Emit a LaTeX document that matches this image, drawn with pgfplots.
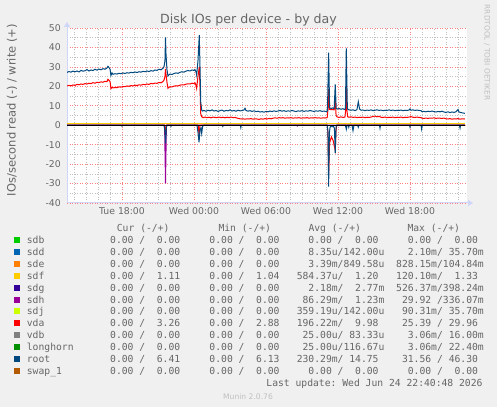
\documentclass[border=0pt]{standalone}
\usepackage{fontspec}
\setmainfont{DejaVu Sans}
\newfontfamily\monofont{DejaVu Sans Mono}
\usepackage{pgfplots}
\pgfplotsset{compat=1.18}
\usetikzlibrary{arrows.meta}
\definecolor{bgc}{HTML}{F0F0F0}
\definecolor{fontc}{HTML}{666666}
\definecolor{axisc}{HTML}{CFD6F8}
\definecolor{csdb}{HTML}{00CC00}
\definecolor{csdd}{HTML}{0066B3}
\definecolor{csde}{HTML}{FF8000}
\definecolor{csdf}{HTML}{FFCC00}
\definecolor{csdg}{HTML}{330099}
\definecolor{csdh}{HTML}{990099}
\definecolor{csdj}{HTML}{CCFF00}
\definecolor{cvda}{HTML}{FF0000}
\definecolor{cvdb}{HTML}{808080}
\definecolor{clong}{HTML}{008F00}
\definecolor{croot}{HTML}{00487D}
\definecolor{cswap}{HTML}{B35A00}
\newcommand\q{\phantom{0}}
\newcommand\zz{\q\q0.00\q/\q\q0.00\q}
\newcommand\lrow[7]{%
  \pgfmathsetmacro\cy{167.3-11.96*#1}%
  \fill[#2] (14,\cy-3) rectangle (20,\cy+3);
  \node[anchor=base west, inner sep=0pt] at (26.7,\cy-3.5) {#3};
  \node[anchor=base west, inner sep=0pt] at (98.3,\cy-3.5) {#4};
  \node[anchor=base west, inner sep=0pt] at (197.6,\cy-3.5) {#5};
  \node[anchor=base west, inner sep=0pt] at (296.6,\cy-3.5) {#6};
  \node[anchor=base west, inner sep=0pt] at (396,\cy-3.5) {#7};
}
\begin{document}
\begin{tikzpicture}[x=1pt,y=1pt]
\path[use as bounding box] (0,0) rectangle (497,407);
\fill[bgc] (0,0) rectangle (497,407);
\begin{axis}[
  at={(67pt,204pt)}, anchor=south west,
  scale only axis, width=400pt, height=175pt,
  xmin=13.417, xmax=46.75, ymin=-40, ymax=50,
  axis background/.style={fill=white},
  axis lines*=left,
  axis line style={draw=axisc, line width=1pt},
  x axis line style={-{Triangle[length=5pt,width=6pt]}, shorten >=-6pt},
  y axis line style={-{Triangle[length=5pt,width=6pt]}, shorten >=-6pt},
  xtick={18,24,30,36,42},
  xticklabels={Tue 18:00,Wed 00:00,Wed 06:00,Wed 12:00,Wed 18:00},
  minor xtick={14,15,...,46},
  ytick={-40,-30,...,50},
  yticklabels={-40,-30,-20,-10,0,10,20,30,40,50},
  minor ytick={-35,-25,...,45},
  grid=both,
  major grid style={draw=red!50, dash pattern=on 1pt off 1.5pt, line width=0.6pt},
  minor grid style={draw=black!25, dash pattern=on 1pt off 1.5pt, line width=0.6pt},
  major tick length=0pt, minor tick length=0pt,
  tick style={draw=none},
  ticklabel style={font=\fontsize{9.3}{11}\selectfont, text=fontc},
  xticklabel style={anchor=base, inner sep=0pt, yshift=-12pt},
  yticklabel style={anchor=east, inner sep=0pt, xshift=-6pt},
  every axis plot/.append style={line width=1pt},
]
% sdh read
\addplot[csdh] coordinates {(13.42,0)(21.55,0)(21.625,-29.9)(21.7,0)(32.55,0)(32.6,-0.4)(32.65,0)(46.58,0)};
% vda read
\addplot[cvda] coordinates {(13.42,0)(21.55,0)(21.625,-5)(21.7,0)(24.35,0)(24.42,-5)(24.5,0)(35.1,0)(35.16,-4)(35.22,-25.4)(35.3,-9)(35.45,-6)(35.6,-8)(35.77,-13)(35.84,-2)(35.9,0)(46.58,0)};
% vda write
\addplot[cvda] coordinates {(13.42,20.2)(13.58,20.5)(13.75,20.3)(13.92,20.7)(14.08,20.5)(14.25,21.0)(14.42,20.8)(14.58,21.2)(14.75,21.0)(14.92,21.4)(15.08,21.2)(15.25,21.6)(15.42,21.4)(15.58,21.9)(15.75,21.6)(15.92,22.1)(16.08,21.9)(16.25,22.3)(16.42,22.1)(16.58,22.6)(16.75,22.4)(16.83,23.6)(16.92,23.0)(17.0,22.6)(17.08,18.8)(17.17,19.5)(17.25,19.2)(17.42,19.4)(17.58,19.3)(17.75,19.7)(17.92,19.6)(18.08,19.9)(18.25,19.8)(18.42,20.2)(18.58,20.0)(18.75,20.4)(18.92,20.2)(19.08,20.6)(19.25,20.4)(19.42,20.8)(19.58,20.6)(19.75,21.0)(19.92,20.8)(20.08,21.2)(20.25,21.0)(20.42,21.5)(20.58,21.3)(20.75,21.7)(20.92,21.5)(21.08,22.0)(21.25,21.8)(21.42,22.5)(21.5,23.2)(21.58,25)(21.625,29.0)(21.67,26)(21.75,22.0)(21.83,19.0)(21.92,19.5)(22.0,19.8)(22.17,19.7)(22.33,20.1)(22.5,20.3)(22.67,20.2)(22.83,20.6)(23.0,20.8)(23.17,20.7)(23.33,21.1)(23.5,21.3)(23.67,21.2)(23.83,21.6)(24.0,21.5)(24.08,21.8)(24.17,20.5)(24.22,19.0)(24.33,25)(24.44,30.0)(24.5,20)(24.56,6)(24.64,4.4)
(24.75,3.9)(24.92,4.2)(25.08,3.9)(25.25,4.1)(25.42,3.8)(25.58,4.2)(25.75,4.0)(25.92,3.9)(26.08,4.2)(26.25,3.9)(26.42,4.1)(26.58,3.8)(26.75,4.1)(26.92,3.9)(27.08,4.2)(27.25,3.9)(27.42,4.0)(27.58,3.7)(27.75,3.4)(27.92,3.2)(28.08,3.3)(28.25,3.1)(28.42,3.3)(28.58,3.2)(28.75,3.4)(28.92,3.1)(29.08,3.3)(29.25,3.2)(29.42,3.0)(29.58,3.3)(29.75,3.1)(29.92,3.4)(30.08,3.2)(30.25,3.5)(30.42,3.3)(30.58,3.6)(30.75,3.8)(30.92,3.6)(31.08,3.9)(31.25,3.7)(31.42,3.9)(31.58,3.6)(31.75,3.8)(31.92,3.7)(32.08,3.9)(32.25,3.6)(32.42,3.8)(32.58,3.7)(32.75,3.9)(32.92,3.6)(33.08,3.8)(33.25,3.7)(33.42,3.9)(33.58,3.6)(33.75,3.8)(33.92,3.7)(34.08,3.9)(34.25,3.7)(34.42,3.8)(34.58,3.6)(34.75,3.8)(34.92,3.7)(35.1,3.9)(35.16,8)(35.22,18.5)(35.28,8.2)(35.42,8.0)(35.55,8.1)(35.68,7.9)(35.77,13)(35.84,5)(35.92,4.3)(36.08,4.0)(36.25,4.3)(36.42,4.0)(36.58,4.2)(36.64,8)(36.69,19.0)(36.74,8)(36.8,4.4)(36.92,4.1)(37.08,4.3)(37.25,4.0)(37.42,4.2)(37.58,3.9)(37.75,4.1)(37.92,4.0)(38.08,4.2)(38.25,3.9)(38.42,4.1)(38.58,4.0)(38.75,4.2)(38.92,4.5)(39.08,4.7)(39.25,4.3)(39.42,4.6)(39.58,4.1)(39.75,4.0)(39.92,4.2)(40.08,3.9)(40.25,4.1)(40.42,4.0)(40.58,4.2)(40.75,3.9)(40.92,4.1)(41.08,4.0)(41.25,4.2)(41.42,3.9)(41.58,4.1)(41.75,4.0)(41.92,4.2)(42.08,4.4)(42.25,4.1)(42.42,4.0)(42.58,4.2)(42.75,4.0)(42.92,3.9)(43.0,3.6)(43.17,3.5)(43.33,3.7)(43.5,3.5)(43.67,3.7)(43.83,3.6)(44.0,3.8)(44.17,3.5)(44.33,3.7)(44.5,3.6)(44.67,3.5)(44.83,3.7)(45.0,3.3)(45.17,3.2)(45.33,3.4)(45.5,3.1)(45.67,3.3)(45.83,3.2)(46.0,3.4)(46.17,3.1)(46.33,3.3)(46.5,3.2)(46.58,3.3)};
% sdf write
\addplot[csdf] coordinates {(13.42,1.1)(46.58,1.1)};
% root read
\addplot[croot] coordinates {(13.42,0)(17.95,0)(18.0,-0.5)(18.05,0)(21.5,0)(21.58,-3)(21.625,-9.3)(21.7,-1.2)(21.75,0)(22.04,0)(22.08,-0.6)(22.12,0)(24.25,0)(24.33,-3.5)(24.42,-8.8)(24.5,-2.5)(24.58,-1.5)(24.64,-4.2)(24.72,-0.5)(24.8,0)(26.36,0)(26.4,-0.6)(26.44,0)(27.86,0)(27.9,-1.2)(27.94,0)(35.1,0)(35.16,-3)(35.22,-31.6)(35.28,-4)(35.34,-1)(35.42,-0.3)(35.5,-0.8)(35.58,-0.2)(35.7,-1.5)(35.77,-14.3)(35.84,-0.8)(35.9,0)(36.62,0)(36.69,-2.1)(36.76,0)(36.86,0)(36.9,-1)(36.94,0)(37.17,0)(37.25,-2.8)(37.33,0)(37.64,0)(37.69,-1)(37.74,0)(39.46,0)(39.5,-1.5)(39.54,0)(41.96,0)(42.0,-1)(42.04,0)(42.92,0)(42.97,-2)(43.02,0)(46.12,0)(46.17,-1.5)(46.22,0)(46.58,0)};
% root write
\addplot[croot] coordinates {(13.42,27.2)(13.58,27.6)(13.75,27.3)(13.92,27.8)(14.08,27.5)(14.25,27.9)(14.42,27.4)(14.58,28.2)(14.75,27.8)(14.92,28.0)(15.08,28.6)(15.25,27.9)(15.42,28.4)(15.58,28.1)(15.75,28.8)(15.92,28.3)(16.08,28.9)(16.25,28.5)(16.42,29.1)(16.58,28.8)(16.75,29.4)(16.83,30.3)(16.92,29.6)(17.0,28.9)(17.08,25.6)(17.17,26.9)(17.25,26.2)(17.42,26.5)(17.58,26.3)(17.75,26.7)(17.92,26.5)(18.08,26.9)(18.25,26.6)(18.42,27.0)(18.58,26.8)(18.75,27.2)(18.92,27.0)(19.08,27.4)(19.25,27.1)(19.42,27.5)(19.58,27.3)(19.75,27.7)(19.92,27.5)(20.08,27.9)(20.25,27.6)(20.42,28.1)(20.58,27.8)(20.75,28.4)(20.92,28.2)(21.08,28.8)(21.25,28.5)(21.42,29.3)(21.5,30.1)(21.58,33)(21.625,45.2)(21.67,36)(21.75,28.5)(21.83,25.3)(21.92,26.0)(22.0,26.3)(22.17,26.1)(22.33,26.6)(22.5,26.9)(22.67,26.7)(22.83,27.2)(23.0,27.5)(23.17,27.3)(23.33,27.8)(23.5,28.1)(23.67,27.9)(23.83,28.4)(24.0,28.2)(24.08,28.6)(24.17,27.4)(24.22,25.8)(24.33,33)(24.44,46.3)(24.5,30)(24.56,12)(24.64,7.8)
(24.72,7.3)(24.83,7.6)(25.0,7.2)(25.17,7.7)(25.33,7.4)(25.5,7.9)(25.67,7.3)(25.83,7.6)(26.0,7.1)(26.17,7.5)(26.33,7.8)(26.5,7.2)(26.67,7.6)(26.83,7.4)(27.0,7.9)(27.17,7.3)(27.33,7.6)(27.5,7.2)(27.67,7.7)(27.83,7.4)(28.0,7.5)(28.17,7.9)(28.25,8.7)(28.33,7.6)(28.5,7.2)(28.67,7.5)(28.83,7.1)(29.0,7.4)(29.17,7.0)(29.33,7.2)(29.5,6.8)(29.67,7.0)(29.83,6.7)(30.0,7.1)(30.17,6.9)(30.33,7.3)(30.5,7.0)(30.67,7.4)(30.83,7.1)(31.0,7.3)(31.17,7.6)(31.33,7.2)(31.5,7.5)(31.67,7.1)(31.83,7.4)(32.0,7.2)(32.17,7.6)(32.33,7.3)(32.5,7.0)(32.67,7.4)(32.83,7.2)(33.0,7.5)(33.17,7.1)(33.33,7.4)(33.5,7.2)(33.67,7.6)(33.83,7.3)(34.0,7.1)(34.17,7.4)(34.33,7.2)(34.5,7.5)(34.67,7.1)(34.83,7.3)(35.0,7.0)(35.12,7.4)(35.22,37.3)(35.3,9.0)(35.42,8.6)(35.55,8.9)(35.68,8.5)(35.77,21)(35.85,8.7)(35.95,8.3)(36.1,8.6)(36.25,8.2)(36.4,8.5)(36.55,8.1)(36.62,8.6)(36.69,39.5)(36.78,8.4)(36.92,7.9)(37.08,7.7)(37.25,7.9)(37.42,7.5)(37.58,8.0)(37.69,12.1)(37.8,8.3)(37.92,7.7)(38.08,7.8)(38.25,7.5)(38.42,7.8)(38.58,7.6)(38.75,7.9)(38.92,7.5)(39.08,7.7)(39.25,7.9)(39.42,7.6)(39.58,7.8)(39.75,7.5)(39.92,7.7)(40.08,7.6)(40.25,7.9)(40.42,7.6)(40.58,7.8)(40.75,7.5)(40.92,7.7)(41.08,7.6)(41.25,7.8)(41.42,7.5)(41.58,7.7)(41.75,7.6)(41.92,7.8)(42.0,8.4)(42.08,7.7)(42.25,7.9)(42.42,7.6)(42.58,7.8)(42.75,7.6)(42.92,7.5)(43.0,7.0)(43.17,7.1)(43.33,6.9)(43.5,7.2)(43.67,7.0)(43.83,7.3)(44.0,7.0)(44.17,6.8)(44.33,7.1)(44.5,6.9)(44.67,7.2)(44.83,6.8)(45.0,6.6)(45.17,6.9)(45.33,6.5)(45.5,6.8)(45.67,6.6)(45.83,6.9)(46.0,8.1)(46.08,6.8)(46.25,6.5)(46.42,6.3)(46.58,6.1)};
% zero line
\addplot[black] coordinates {(13.42,0)(46.58,0)};
\end{axis}
\node[font=\fontsize{12.6}{14}\selectfont, text=fontc, anchor=base] at (248.5,383.5) {Disk IOs per device - by day};
\node[font=\fontsize{11.5}{13}\selectfont, text=fontc, rotate=90, anchor=base] at (15.5,297) {IOs/second read (-) / write (+)};
\node[font=\fontsize{7.4}{9}\selectfont, text=black!25, rotate=-90] at (487,354.5) {RRDTOOL / TOBI OETIKER};
\node[font=\fontsize{7.6}{9}\selectfont, text=black!25, anchor=base] at (248,7.5) {Munin 2.0.76};
\begin{scope}[font=\monofont\fontsize{9.7}{11}\selectfont, text=fontc]
\node[anchor=base west, inner sep=0pt] at (116.7,175.2) {Cur\q(-/+)};
\node[anchor=base west, inner sep=0pt] at (218.3,175.2) {Min\q(-/+)};
\node[anchor=base west, inner sep=0pt] at (308.3,175.2) {Avg\q(-/+)};
\node[anchor=base west, inner sep=0pt] at (407.3,175.2) {Max\q(-/+)};
\lrow{0}{csdb}{sdb}{\zz}{\zz}{\zz}{\zz}
\lrow{1}{csdd}{sdd}{\zz}{\zz}{\q\q8.35u/142.00u}{\q\q2.10m/\q35.70m}
\lrow{2}{csde}{sde}{\zz}{\zz}{\q\q3.39m/849.58u}{828.15m/104.84m}
\lrow{3}{csdf}{sdf}{\q\q0.00\q/\q\q1.11\q}{\q\q0.00\q/\q\q1.04\q}{584.37u/\q\q1.20\q}{120.10m/\q\q1.33\q}
\lrow{4}{csdg}{sdg}{\zz}{\zz}{\q\q2.18m/\q\q2.77m}{526.37m/398.24m}
\lrow{5}{csdh}{sdh}{\zz}{\zz}{\q86.29m/\q\q1.23m}{\q29.92\q/336.07m}
\lrow{6}{csdj}{sdj}{\zz}{\zz}{359.19u/142.00u}{\q90.31m/\q35.70m}
\lrow{7}{cvda}{vda}{\q\q0.00\q/\q\q3.26\q}{\q\q0.00\q/\q\q2.88\q}{196.22m/\q\q9.98\q}{\q25.39\q/\q29.96\q}
\lrow{8}{cvdb}{vdb}{\zz}{\zz}{\q25.00u/\q83.33u}{\q\q3.06m/\q16.00m}
\lrow{9}{clong}{longhorn}{\zz}{\zz}{\q25.00u/116.67u}{\q\q3.06m/\q22.40m}
\lrow{10}{croot}{root}{\q\q0.00\q/\q\q6.41\q}{\q\q0.00\q/\q\q6.13\q}{230.29m/\q14.75\q}{\q31.56\q/\q46.30\q}
\lrow{11}{cswap}{swap\_1}{\zz}{\zz}{\zz}{\zz}
\node[anchor=base east, inner sep=0pt] at (482.7,20.2) {Last\q update:\q Wed\q Jun\q 24\q 22:40:48\q 2026};
\end{scope}
\end{tikzpicture}
\end{document}
